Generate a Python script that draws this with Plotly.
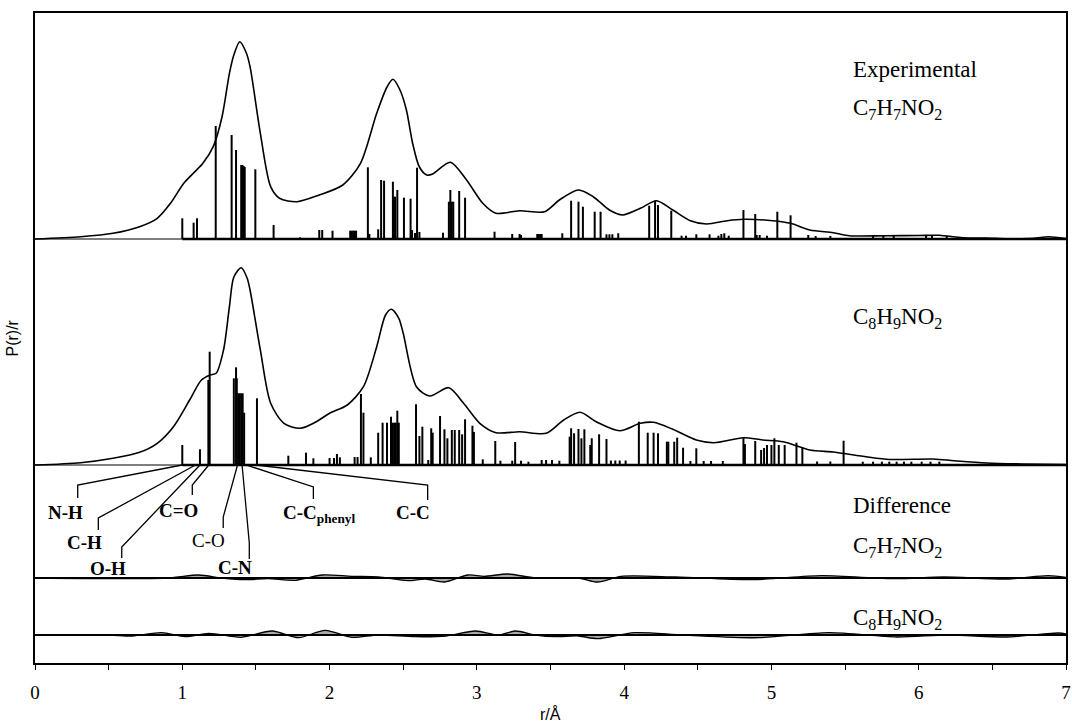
import plotly.graph_objects as go

# ---------------- data ----------------
# Experimental P(r)/r curve (arbitrary units)
exp_r = [0, 0.31, 0.53, 0.71, 0.83, 0.92, 1.01, 1.075, 1.14, 1.21, 1.27, 1.32, 1.35, 1.39, 1.435,
         1.46, 1.53, 1.60, 1.66, 1.78, 1.93, 2.09, 2.21, 2.32, 2.39, 2.43, 2.475, 2.52, 2.565, 2.61,
         2.66, 2.70, 2.82, 2.93, 3.04, 3.13, 3.29, 3.46, 3.56, 3.69, 3.79, 3.90, 3.99, 4.11, 4.22,
         4.33, 4.45, 4.56, 4.70, 4.81, 5.01, 5.13, 5.26, 5.42, 5.53, 5.78, 6.00, 6.14, 6.30, 6.46,
         6.60, 6.78, 6.88, 7.0]
exp_p = [0, 2.3, 5.7, 12.3, 20.7, 35.7, 55.7, 65.7, 75.7, 92.3, 122.3, 165.7, 184, 197.3, 186,
         172.3, 105.7, 52.3, 40.7, 37.3, 44, 54, 75.7, 125.7, 152, 159.7, 150, 130, 95, 72,
         64, 65, 76.7, 59, 35.7, 25.7, 28.3, 27.3, 39, 49, 42.3, 29, 24, 30.7, 38.3,
         29, 18.3, 15, 18.3, 19.7, 18.3, 15.7, 9, 6.3, 3.3, 3.3, 3.5, 3.7, 1.3, 1,
         0.3, 0.7, 2.3, 0.5]

# Experimental-structure distances (sticks)
exp_stick_r = [1.000, 1.077, 1.100, 1.227, 1.335, 1.365, 1.400, 1.408, 1.416, 1.424, 1.496, 1.620,
               1.800, 1.930, 1.950, 2.020, 2.140, 2.150, 2.160, 2.170, 2.180, 2.260, 2.270, 2.330,
               2.350, 2.370, 2.430, 2.437, 2.445, 2.460, 2.505, 2.550, 2.560, 2.580, 2.594, 2.610,
               2.770, 2.810, 2.820, 2.830, 2.840, 2.880, 2.920, 3.120, 3.240, 3.290, 3.300, 3.410,
               3.420, 3.430, 3.440, 3.580, 3.640, 3.690, 3.720, 3.800, 3.840, 3.880, 3.900, 3.920,
               3.960, 4.170, 4.210, 4.230, 4.320, 4.390, 4.420, 4.490, 4.580, 4.640, 4.660, 4.680,
               4.710, 4.810, 4.890, 4.900, 4.920, 4.970, 5.040, 5.130, 5.250, 5.300, 5.400, 5.690,
               5.760, 5.830, 6.050, 6.090, 6.190]
exp_stick_h = [20.7, 16.3, 20.7, 113, 104, 89, 74, 74, 73, 72, 69.7, 14,
               1.7, 9, 9, 8.3, 8.3, 8.3, 8.3, 8.3, 8.3, 71.7, 5, 9.7,
               59, 58.3, 57.3, 42.3, 42.3, 49, 41.3, 40.3, 9, 6, 71.3, 7,
               6.3, 37.3, 49, 37.3, 37.3, 48, 41.3, 7.3, 5, 5, 4, 5,
               5, 5, 5, 5.7, 38.3, 37.3, 32.3, 27.3, 27.3, 4.7, 4.7, 4.7,
               5.7, 33.3, 38.3, 34, 28.3, 3.3, 3.3, 4.7, 4.7, 3.3, 5, 5.7,
               3.3, 29, 25, 4, 4, 3.3, 27.3, 23.7, 4, 3, 3, 3,
               3.7, 3, 3, 4, 3]

# Model C8H9NO2 P(r)/r curve
mod_r = [0, 0.31, 0.53, 0.71, 0.83, 0.94, 1.05, 1.13, 1.19, 1.23, 1.28, 1.32, 1.35, 1.40, 1.44,
         1.46, 1.53, 1.60, 1.69, 1.80, 1.91, 2.00, 2.12, 2.23, 2.32, 2.38, 2.42, 2.47, 2.50, 2.59,
         2.68, 2.81, 2.91, 3.02, 3.13, 3.29, 3.47, 3.59, 3.70, 3.81, 3.97, 4.11, 4.20, 4.33, 4.49,
         4.61, 4.81, 4.94, 5.08, 5.26, 5.42, 5.56, 5.78, 6.10, 6.24, 6.46, 6.70, 7.0]
mod_p = [0, 2.3, 6.7, 12.7, 21.7, 38.3, 65, 85, 90, 91.7, 115, 158.3, 188, 197.3, 187,
         175, 115, 61.7, 41.7, 36.7, 43.3, 51.7, 60, 78.3, 118.3, 150, 155.7, 146.7, 131.7, 78.3,
         69, 77.3, 61.7, 41.7, 32.3, 33.3, 31.7, 45, 52.7, 43.3, 34.3, 41.7, 42.7, 35.7, 25,
         22.3, 27.3, 25, 23.3, 15, 13, 10, 5.7, 6, 4.3, 2, 1, 0.5]

mod_stick_r = [1.000, 1.120, 1.177, 1.186, 1.350, 1.365, 1.370, 1.380, 1.390, 1.400, 1.410, 1.420,
               1.507, 1.720, 1.840, 1.890, 2.000, 2.030, 2.050, 2.070, 2.170, 2.190, 2.213, 2.230,
               2.280, 2.330, 2.360, 2.390, 2.417, 2.430, 2.440, 2.450, 2.460, 2.470, 2.587, 2.610,
               2.630, 2.670, 2.690, 2.700, 2.750, 2.780, 2.800, 2.830, 2.850, 2.880, 2.900, 2.920,
               2.970, 2.980, 3.040, 3.125, 3.160, 3.240, 3.260, 3.300, 3.350, 3.440, 3.470, 3.510,
               3.560, 3.630, 3.640, 3.660, 3.690, 3.710, 3.730, 3.770, 3.780, 3.830, 3.880, 3.910,
               3.940, 3.970, 4.010, 4.100, 4.160, 4.200, 4.230, 4.290, 4.300, 4.340, 4.360, 4.400,
               4.450, 4.490, 4.540, 4.590, 4.670, 4.810, 4.820, 4.890, 4.930, 4.950, 4.970, 5.000,
               5.020, 5.050, 5.090, 5.170, 5.210, 5.310, 5.400, 5.490, 5.620, 5.690, 5.750, 5.800,
               5.850, 5.900, 5.950, 6.020, 6.080, 6.140]
mod_stick_h = [20, 15.7, 85, 113.3, 86.7, 97.7, 86.7, 71.7, 71.7, 71.7, 71.7, 52.3,
               66.7, 9.3, 12.3, 6.7, 7, 7, 11, 7.7, 8, 8, 71, 52.3,
               7.7, 32.3, 42.3, 42.3, 48.3, 42.3, 42.3, 42.3, 54.3, 42.3, 60.7, 29,
               38.3, 5, 36.7, 32.3, 49, 35.7, 26.7, 35, 35, 35, 30.7, 45.7,
               39.3, 33, 5.7, 24, 4.3, 4.3, 23, 4.3, 3.3, 5, 5, 5,
               4.3, 28.3, 36.7, 31.7, 36, 26.7, 35.7, 20, 26.7, 30.7, 26, 4.5,
               4.5, 4.5, 4.5, 43.3, 32.3, 32.3, 31.7, 23.3, 23.3, 23.3, 27.3, 17.3,
               4, 16.7, 4, 4, 4, 27.3, 21, 24, 15, 17, 20, 20,
               26.7, 20, 20, 22.3, 17.3, 3.5, 3.5, 24.3, 3.3, 3.3, 3.3, 3.3,
               3.3, 3.3, 3.3, 3.3, 3.3, 3.3]

# Difference curves
diff1_r = [0, 0.9, 1.11, 1.27, 1.43, 1.58, 1.77, 1.95, 2.15, 2.33, 2.53, 2.65, 2.78, 2.94, 3.05,
           3.21, 3.40, 3.69, 3.82, 3.98, 4.35, 4.87, 5.34, 5.84, 6.17, 6.60, 6.88, 7.0]
diff1_p = [0, 0, 3, 0, -1.7, -0.7, -2.3, 3, 1.7, 1, -2.7, -1, -4, 3, 1.7,
           4, 0, 0, -4, 1.7, 1, -1.7, 2.3, -0.7, 1, -1, 2.3, 0.5]
diff2_r = [0, 0.5, 0.66, 0.86, 1.02, 1.18, 1.40, 1.61, 1.79, 1.97, 2.15, 2.33, 2.58, 2.79, 2.99,
           3.15, 3.26, 3.40, 3.53, 3.69, 3.82, 4.07, 4.40, 4.91, 5.39, 5.85, 6.20, 6.60, 6.95, 7.0]
diff2_p = [0, 0, -1, 2.3, -1.7, 1.7, -2.3, 4, -2.7, 4.7, -2.3, 0, -1.7, -1, 4,
           0, 4, 0, -1.7, -1, -3.7, 2.3, 0, -2.7, 2.3, -2, 0, -2, 2, 1]

# Bond assignments (label, distance of the marked stick)
bond_labels = ["N-H", "C-H", "O-H", "C=O", "C-O", "C-N", "C-C<sub>phenyl</sub>", "C-C"]
bond_r = [1.00, 1.09, 1.12, 1.18, 1.375, 1.406, 1.434, 1.50]

x_ticks = [0, 1, 2, 3, 4, 5, 6, 7]

# ---------------- layout constants ----------------
EXP_BASE, MOD_BASE, D1_BASE, D2_BASE = 424, 198, 85, 28
SERIF = "Liberation Serif, Times New Roman, serif"
SANS = "Liberation Sans, Arial, sans-serif"

# label placement: (text x, text y, corner x, corner y, end y, bold, xanchor)
bond_layout = [
    (0.204, 151, 0.290, 178, 165, True, "center"),
    (0.339, 121, 0.430, 145, 133, True, "center"),
    (0.498, 95, 0.589, 116, 105, True, "center"),
    (0.973, 153, 1.068, 178, 168, True, "center"),
    (1.177, 123, 1.278, 146, 135, False, "center"),
    (1.358, 96, 1.455, 120, 104, True, "center"),
    (1.672, 149, 1.890, 176, 164, True, "left"),
    (2.568, 151, 2.666, 178, 163, True, "center"),
]

fig = go.Figure()


def sticks(rs, hs, base):
    xs, ys = [], []
    for r, h in zip(rs, hs):
        xs += [r, r, None]
        ys += [base, base + h, None]
    return xs, ys


def add_panel(curve_r, curve_p, st_r, st_h, base):
    fig.add_trace(go.Scatter(x=[0, 7], y=[base, base], mode="lines",
                             line=dict(color="black", width=1.2), hoverinfo="skip"))
    fig.add_trace(go.Scatter(x=[min(st_r), 7], y=[base, base], mode="lines",
                             line=dict(color="black", width=2.6), hoverinfo="skip"))
    xs, ys = sticks(st_r, st_h, base)
    fig.add_trace(go.Scatter(x=xs, y=ys, mode="lines",
                             line=dict(color="black", width=2), hoverinfo="skip"))
    fig.add_trace(go.Scatter(x=curve_r, y=[base + v for v in curve_p], mode="lines",
                             line=dict(color="black", width=1.6, shape="spline", smoothing=0.8),
                             hoverinfo="skip"))


add_panel(exp_r, exp_p, exp_stick_r, exp_stick_h, EXP_BASE)
add_panel(mod_r, mod_p, mod_stick_r, mod_stick_h, MOD_BASE)

for dr, dp, base in [(diff1_r, diff1_p, D1_BASE), (diff2_r, diff2_p, D2_BASE)]:
    fig.add_trace(go.Scatter(x=[0, 7], y=[base, base], mode="lines",
                             line=dict(color="black", width=1.8), hoverinfo="skip"))
    fig.add_trace(go.Scatter(x=dr, y=[base + v for v in dp], mode="lines", fill="tonexty",
                             fillcolor="rgba(150,150,150,0.8)",
                             line=dict(color="black", width=1.3, shape="spline", smoothing=0.8),
                             hoverinfo="skip"))

# leader lines and bond labels
annotations = []
for lab, r0, (tx, ty, cx, cy, ey, bold, xa) in zip(bond_labels, bond_r, bond_layout):
    fig.add_trace(go.Scatter(x=[r0, cx, cx], y=[MOD_BASE, cy, ey], mode="lines",
                             line=dict(color="black", width=1.3), hoverinfo="skip"))
    txt = "<b>" + lab + "</b>" if bold else lab
    annotations.append(dict(x=tx, y=ty, xref="x", yref="y", text=txt, showarrow=False,
                            xanchor=xa, yanchor="middle",
                            font=dict(family=SERIF, size=19, color="black")))

TX = 5.54
for txt, y in [("Experimental", 593.5), ("C<sub>7</sub>H<sub>7</sub>NO<sub>2</sub>", 554),
               ("C<sub>8</sub>H<sub>9</sub>NO<sub>2</sub>", 345), ("Difference", 158),
               ("C<sub>7</sub>H<sub>7</sub>NO<sub>2</sub>", 116),
               ("C<sub>8</sub>H<sub>9</sub>NO<sub>2</sub>", 44)]:
    annotations.append(dict(x=TX, y=y, xref="x", yref="y", text=txt, showarrow=False,
                            xanchor="left", yanchor="middle",
                            font=dict(family=SERIF, size=23, color="black")))

annotations.append(dict(x=0.5, y=0, xref="paper", yref="paper", text="r/Å", showarrow=False,
                        xanchor="center", yanchor="top", yshift=-40,
                        font=dict(family=SANS, size=16, color="black")))
annotations.append(dict(x=0, y=0.5, xref="paper", yref="paper", text="P(r)/r", showarrow=False,
                        xanchor="right", yanchor="middle", xshift=-13, textangle=-90,
                        font=dict(family=SANS, size=16, color="black")))

fig.update_layout(
    width=1072, height=724,
    margin=dict(l=35, r=6, t=13, b=61, autoexpand=False),
    paper_bgcolor="white", plot_bgcolor="white",
    showlegend=False,
    annotations=annotations,
    xaxis=dict(range=[0, 7], tickvals=x_ticks, ticktext=[str(t) for t in x_ticks],
               showgrid=False, zeroline=False, showline=True, mirror=True,
               linecolor="black", linewidth=1.5, ticks="outside", ticklen=5,
               tickcolor="black", tickwidth=1, ticklabelstandoff=6,
               minor=dict(dtick=0.5, ticks="outside", ticklen=5, tickcolor="black", tickwidth=1),
               tickfont=dict(family=SERIF, size=19, color="black")),
    yaxis=dict(range=[0, 650], showticklabels=False, ticks="", showgrid=False, zeroline=False,
               showline=True, mirror=True, linecolor="black", linewidth=1.5),
)

# remove the default page margin so the figure fills the window exactly
fig.write_html("out.html", config={"displayModeBar": False},
               post_script="document.body.style.margin='0';document.body.style.overflow='hidden';")
